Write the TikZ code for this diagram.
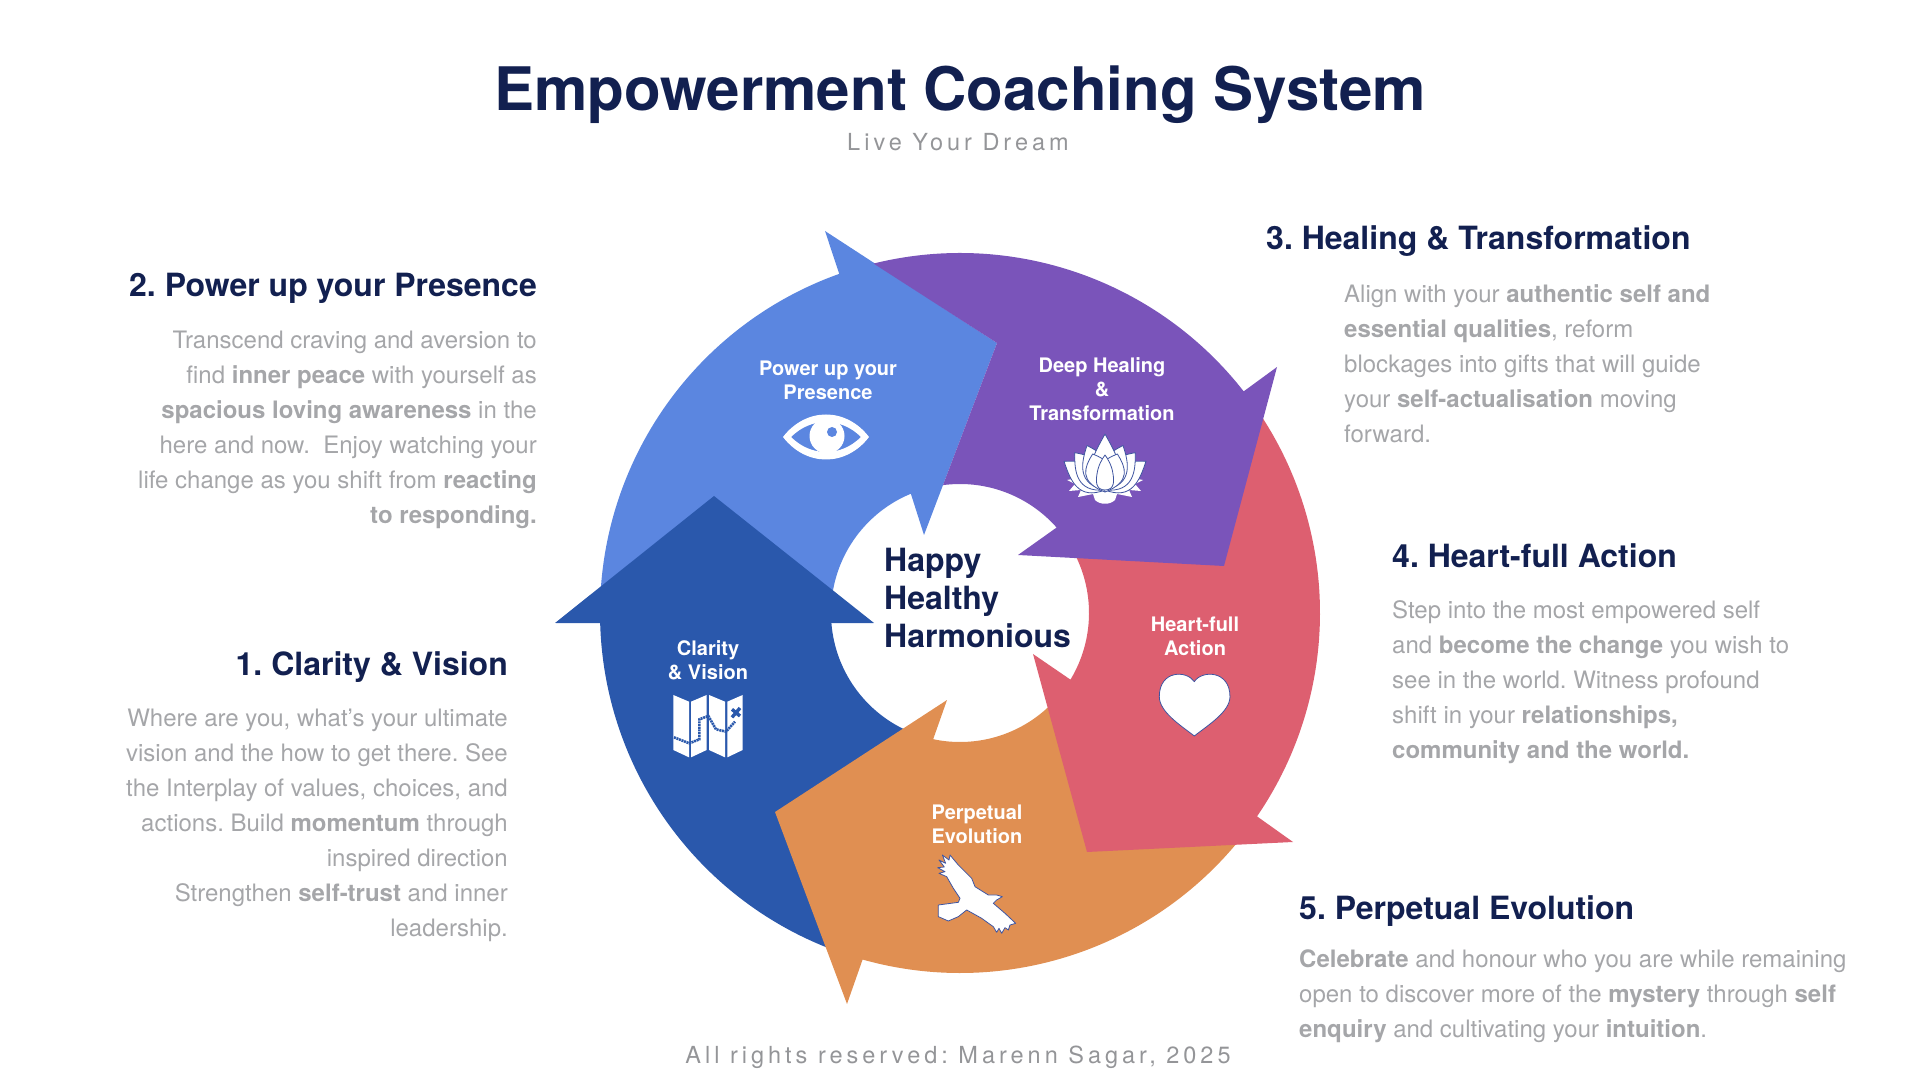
\documentclass[tikz,border=0pt]{standalone}
\usepackage{fontspec}
\setmainfont{TeX Gyre Heros}
\usetikzlibrary{positioning}
\frenchspacing
\definecolor{navy}{RGB}{18,32,80}
\definecolor{greytext}{RGB}{165,166,169}
\definecolor{clarityblue}{RGB}{42,88,172}
\definecolor{powerblue}{RGB}{91,134,224}
\definecolor{healpurple}{RGB}{122,84,186}
\definecolor{heartred}{RGB}{221,95,112}
\definecolor{evolveorange}{RGB}{224,143,82}
\definecolor{iconline}{RGB}{62,84,160}

\begin{document}
\begin{tikzpicture}[
  x=1pt, y=1pt,
  head/.style={inner sep=0pt, text=navy, font=\fontsize{32}{38}\selectfont\bfseries},
  bodyl/.style={inner sep=0pt, text=greytext, align=left, anchor=north west, font=\fontsize{24}{35}\selectfont},
  bodyr/.style={inner sep=0pt, text=greytext, align=right, anchor=north east, font=\fontsize{24}{35}\selectfont},
  steplabel/.style={inner sep=0pt, text=white, align=center, font=\fontsize{20}{24}\selectfont\bfseries},
  spaced/.style={inner sep=0pt, text=greytext!90!black, font=\fontsize{23.5}{27}\selectfont\addfontfeature{LetterSpace=17}},
  icon/.style={fill=white, draw=iconline, line width=0.8pt, line join=round}
]
\useasboundingbox (0,0) rectangle (1919,1080);
\coordinate (cent) at (960,467);

% the five arrows, each over the tail of the one before
\fill[powerblue] ([shift={(178:360pt)}]cent) arc[start angle=178, end angle=109.6, radius=360pt]
  -- (825,849) -- (997,737) -- (924,545) -- ([shift={(112.4:129pt)}]cent)
  arc[start angle=112.4, end angle=175, radius=129pt] -- cycle;
\fill[clarityblue] (714,584) -- (874,457) -- ([shift={(184.5:129pt)}]cent)
  arc[start angle=184.5, end angle=250, radius=129pt] -- ([shift={(252:360pt)}]cent)
  arc[start angle=252, end angle=181.6, radius=360pt] -- (555,457) -- cycle;
\fill[evolveorange] (947,380) -- (775,268) -- (847,76) -- ([shift={(254.3:360pt)}]cent)
  arc[start angle=254.3, end angle=322, radius=360pt] -- ([shift={(315:129pt)}]cent)
  arc[start angle=315, end angle=258, radius=129pt] -- cycle;
\fill[heartred] (1033,426) -- (1087,228) -- (1293,238) -- ([shift={(325.6:360pt)}]cent)
  arc[start angle=325.6, end angle=395, radius=360pt] -- ([shift={(30:129pt)}]cent)
  arc[start angle=390, end angle=328.9, radius=129pt] -- cycle;
\fill[healpurple] (1224,514) -- (1018,525) -- ([shift={(41.5:129pt)}]cent)
  arc[start angle=41.5, end angle=97.6, radius=129pt] -- (997,737) -- ([shift={(103.9:360pt)}]cent)
  arc[start angle=103.9, end angle=38, radius=360pt] -- (1277,713) -- cycle;

% eye
\begin{scope}[shift={(826,643)}]
  \fill[white, even odd rule] (-43,0) .. controls (-20,30) and (20,30) .. (43,0)
    .. controls (20,-30) and (-20,-30) .. (-43,0) -- cycle
    (-35,0) .. controls (-15,20) and (15,20) .. (35,0)
    .. controls (15,-20) and (-15,-20) .. (-35,0) -- cycle;
  \fill[white] (1,1) circle (17.5pt);
  \fill[powerblue] (6,5) circle (5pt);
\end{scope}

% lotus
\begin{scope}[shift={(1105,612)}]
  \fill[white] (-38,-12) -- (-30,-16) -- (-36,-23) -- (-24,-22) -- (-27,-29) -- (-12,-26) -- (-10,-32)
    .. controls (-5,-37) and (5,-37) .. (10,-32) -- (12,-26) -- (27,-29) -- (24,-22) -- (36,-23) -- (30,-16) -- (38,-12)
    -- (0,-5) -- cycle;
  \foreach \ang/\len in {55/50, -55/50, 39/48, -39/48, 22/48, -22/48, 0/56}{
    \filldraw[icon, rotate around={\ang:(0,-22)}] (0,-22) .. controls (-24,-6) and (-12,12) .. (0,-22+\len)
      .. controls (12,12) and (24,-6) .. (0,-22) -- cycle;
  }
  \foreach \ang in {18,-18}{
    \filldraw[icon, rotate around={\ang:(0,-24)}] (0,-24) .. controls (-22,-6) and (-12,6) .. (0,16)
      .. controls (12,6) and (22,-6) .. (0,-24) -- cycle;
  }
  \filldraw[icon] (0,-22) .. controls (-10,-22) and (-9,-12) .. (-8,-6) .. controls (-7,2) and (-3,9) .. (0,13)
    .. controls (3,9) and (7,2) .. (8,-6) .. controls (9,-12) and (10,-22) .. (0,-22) -- cycle;
\end{scope}

% map, in crop units
\begin{scope}[shift={(660,400)}, x=0.3333pt, y=-0.3333pt]
  \fill[white] (40,45) -- (87,65) -- (87,232) -- (40,210) -- cycle;
  \fill[white] (93,65) -- (140,45) -- (140,210) -- (93,232) -- cycle;
  \fill[white] (147,45) -- (195,65) -- (195,232) -- (147,210) -- cycle;
  \fill[white] (202,65) -- (248,45) -- (248,210) -- (202,232) -- cycle;
  \draw[clarityblue, line width=2.6pt, dash pattern=on 2pt off 0.7pt]
    (42,172) -- (88,190) -- (118,178) -- (118,118) -- (145,108) -- (168,148) -- (198,155) -- (225,125);
  \draw[clarityblue, line width=3.4pt] (216,88) -- (240,108) (240,84) -- (216,112);
\end{scope}

% heart, in crop units
\begin{scope}[shift={(880,500)}, x=0.3333pt, y=-0.3333pt]
  \filldraw[icon] (943,305) .. controls (965,270) and (1050,270) .. (1050,350)
    .. controls (1050,395) and (985,435) .. (943,468) .. controls (900,435) and (838,395) .. (838,350)
    .. controls (838,270) and (920,270) .. (943,305) -- cycle;
\end{scope}

% bird, in crop units
\begin{scope}[shift={(925,235)}, x=0.3333pt, y=-0.3333pt]
  \filldraw[icon] (75,30) -- (100,60) -- (140,100) -- (150,125) -- (190,150) -- (215,150) -- (232,155)
    -- (215,165) -- (205,175) -- (240,205) -- (272,235) -- (255,240) -- (250,255) -- (240,248) -- (230,265)
    -- (222,250) -- (215,262) -- (205,245) -- (195,238) -- (170,220) -- (125,195) -- (100,215) -- (70,228)
    -- (40,215) -- (40,180) -- (100,172) -- (105,160) -- (85,130) -- (65,95) -- (42,85) -- (60,80) -- (38,68)
    -- (58,66) -- (42,45) -- (62,55) -- (52,30) -- (72,45) -- cycle;
\end{scope}

% headings and texts
\node[inner sep=0pt, text=navy, font=\fontsize{60}{70}\selectfont\bfseries] (title) at (960,985) {Empowerment Coaching System};
\node[spaced, anchor=base] (subtitle) at (958,929) {Live Your Dream};
\node[spaced, anchor=base] (rights) at (958,1080-1063) {All rights reserved: Marenn Sagar, 2025};

\node[head, anchor=base east] (h2) at (537,783) {2. Power up your Presence};
\node[bodyr, below=34pt of h2.base east, anchor=north east] (t2) {Transcend craving and aversion to\\find \textbf{inner peace} with yourself as\\\textbf{spacious loving awareness} in the\\here and now.\ \ Enjoy watching your\\life change as you shift from \textbf{reacting}\\\textbf{to responding.}};

\node[head, anchor=base east] (h1) at (508,405) {1. Clarity \& Vision};
\node[bodyr, below=34pt of h1.base east, anchor=north east] (t1) {Where are you, what’s your ultimate\\vision and the how to get there. See\\the Interplay of values, choices, and\\actions. Build \textbf{momentum} through\\inspired direction\\Strengthen \textbf{self-trust} and inner\\leadership.};

\node[head, anchor=base west] (h3) at (1266,830) {3. Healing \& Transformation};
\node[bodyl, below=34pt of h3.base west, xshift=78pt, anchor=north west] (t3) {Align with your \textbf{authentic self and}\\\textbf{essential qualities}, reform\\blockages into gifts that will guide\\your \textbf{self-actualisation} moving\\forward.};

\node[head, anchor=base west] (h4) at (1392,512) {4. Heart-full Action};
\node[bodyl, below=32.5pt of h4.base west, anchor=north west] (t4) {Step into the most empowered self\\and \textbf{become the change} you wish to\\see in the world. Witness profound\\shift in your \textbf{relationships,}\\\textbf{community and the world.}};

\node[head, anchor=base west] (h5) at (1299,161) {5. Perpetual Evolution};
\node[bodyl, below=31pt of h5.base west, anchor=north west] (t5) {\textbf{Celebrate} and honour who you are while remaining\\open to discover more of the \textbf{mystery} through \textbf{self}\\\textbf{enquiry} and cultivating your \textbf{intuition}.};

% labels on the arrows
\node[steplabel] (l1) at (708,420) {Clarity\\\& Vision};
\node[steplabel] (l2) at (828,700) {Power up your\\Presence};
\node[steplabel] (l3) at (1102,691) {Deep Healing\\\&\\Transformation};
\node[steplabel] (l4) at (1195,444) {Heart-full\\Action};
\node[steplabel] (l5) at (977,256) {Perpetual\\Evolution};
\node[inner sep=0pt, text=navy, align=left, anchor=north west, font=\fontsize{32}{38}\selectfont\bfseries] (hub) at (884,532) {Happy\\Healthy\\Harmonious};
\end{tikzpicture}
\end{document}
